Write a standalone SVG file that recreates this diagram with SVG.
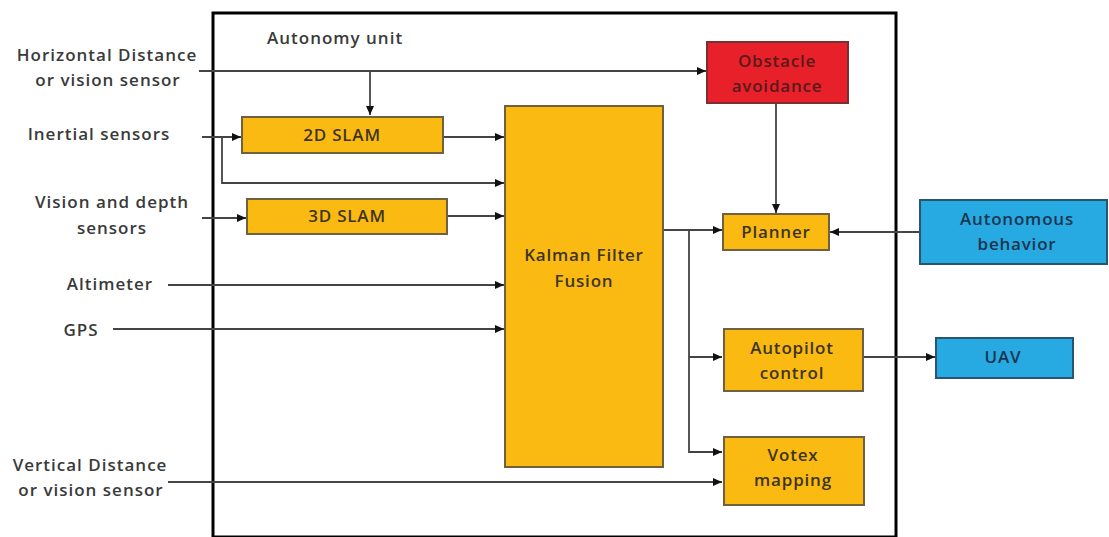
<svg xmlns="http://www.w3.org/2000/svg" width="1109" height="537" viewBox="0 0 1109 537">
<style>
.lbl{font-family:"Open Sans","Liberation Sans",sans-serif;font-size:17px;font-weight:600;letter-spacing:1px;fill:#3a3a3a;text-anchor:middle}
.bt{font-family:"Open Sans","Liberation Sans",sans-serif;font-size:17px;font-weight:600;letter-spacing:0.8px;fill:#3d3520;text-anchor:middle}
.y{fill:#FBBA12;stroke:#6f6040;stroke-width:2}
.r{fill:#E8202A;stroke:#7a3030;stroke-width:2}
.b{fill:#27A9E1;stroke:#2a5570;stroke-width:2}
.ln{fill:none;stroke:#444;stroke-width:1.8}
</style>
<defs>
<marker id="ah" markerUnits="userSpaceOnUse" markerWidth="10" markerHeight="10" refX="9" refY="4" orient="auto">
<path d="M0,0 L9,4 L0,8 z" fill="#111"/>
</marker>
</defs>
<rect width="1109" height="537" fill="#fff"/>
<g id="autonomy-unit">
<rect x="213" y="13" width="683" height="524" fill="none" stroke="#000" stroke-width="3"/>
<text x="267" y="44" class="lbl" style="text-anchor:start">Autonomy unit</text>
</g>
<g id="inputs">
<text class="lbl" x="107" y="61">Horizontal Distance</text>
<text class="lbl" x="108" y="86">or vision sensor</text>
<text class="lbl" x="99" y="140">Inertial sensors</text>
<text class="lbl" x="112" y="208">Vision and depth</text>
<text class="lbl" x="112" y="234">sensors</text>
<text class="lbl" x="110" y="290">Altimeter</text>
<text class="lbl" x="81" y="336">GPS</text>
<text class="lbl" x="90" y="471">Vertical Distance</text>
<text class="lbl" x="91" y="496">or vision sensor</text>
</g>
<g id="connectors">
<path class="ln" d="M199,71 H706" marker-end="url(#ah)"/>
<path class="ln" d="M370,71 V115" marker-end="url(#ah)"/>
<path class="ln" d="M202,137 H241" marker-end="url(#ah)"/>
<path class="ln" d="M222,137 V183 H504" marker-end="url(#ah)"/>
<path class="ln" d="M443,137 H504" marker-end="url(#ah)"/>
<path class="ln" d="M202,218 H246" marker-end="url(#ah)"/>
<path class="ln" d="M447,216 H504" marker-end="url(#ah)"/>
<path class="ln" d="M168,285 H504" marker-end="url(#ah)"/>
<path class="ln" d="M113,329 H504" marker-end="url(#ah)"/>
<path class="ln" d="M168,482 H722" marker-end="url(#ah)"/>
<path class="ln" d="M663,230 H722" marker-end="url(#ah)"/>
<path class="ln" d="M689,230 V452 H722" marker-end="url(#ah)"/>
<path class="ln" d="M689,357 H722" marker-end="url(#ah)"/>
<path class="ln" d="M776,103 V213" marker-end="url(#ah)"/>
<path class="ln" d="M919,232 H830" marker-end="url(#ah)"/>
<path class="ln" d="M863,357 H935" marker-end="url(#ah)"/>
</g>
<g id="slam2d">
<rect class="y" x="242" y="117" width="201" height="36"/>
<text class="bt" x="342" y="141">2D SLAM</text>
</g>
<g id="slam3d">
<rect class="y" x="247" y="199" width="200" height="35"/>
<text class="bt" x="347" y="222">3D SLAM</text>
</g>
<g id="kalman">
<rect class="y" x="505" y="106" width="158" height="361"/>
<text class="bt" x="584" y="261">Kalman Filter</text>
<text class="bt" x="584" y="287">Fusion</text>
</g>
<g id="obstacle">
<rect class="r" x="707" y="42" width="141" height="61"/>
<text class="bt" x="777" y="67" style="fill:#5a1a1a">Obstacle</text>
<text class="bt" x="777" y="92" style="fill:#5a1a1a">avoidance</text>
</g>
<g id="planner">
<rect class="y" x="723" y="214" width="106" height="36"/>
<text class="bt" x="776" y="238">Planner</text>
</g>
<g id="autonomous">
<rect class="b" x="920" y="200" width="187" height="64"/>
<text class="bt" x="1017" y="225" style="fill:#1c3550">Autonomous</text>
<text class="bt" x="1017" y="250" style="fill:#1c3550">behavior</text>
</g>
<g id="autopilot">
<rect class="y" x="724" y="329" width="139" height="62"/>
<text class="bt" x="792" y="354">Autopilot</text>
<text class="bt" x="792" y="379">control</text>
</g>
<g id="uav">
<rect class="b" x="936" y="338" width="137" height="40"/>
<text class="bt" x="1003" y="363" style="fill:#1c3550">UAV</text>
</g>
<g id="votex">
<rect class="y" x="724" y="437" width="140" height="68"/>
<text class="bt" x="793" y="461">Votex</text>
<text class="bt" x="793" y="486">mapping</text>
</g>
</svg>
